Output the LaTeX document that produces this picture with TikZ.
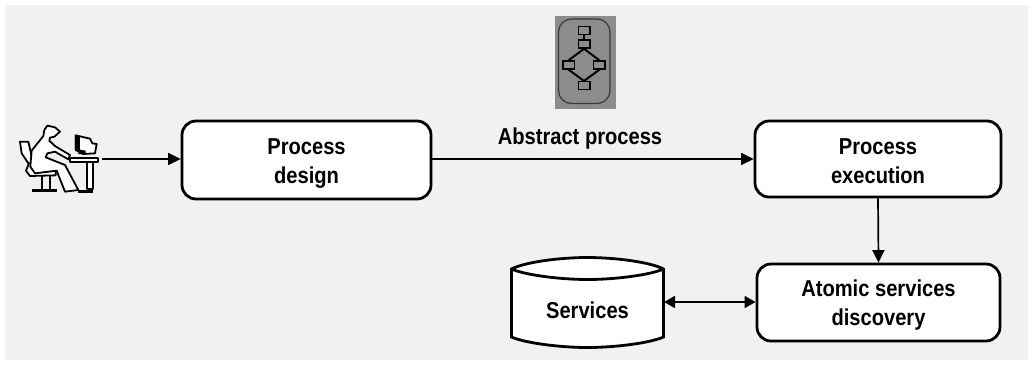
\documentclass[tikz,border=0pt]{standalone}
\usepackage{fontspec}
\setmainfont[FakeStretch=0.875]{Liberation Sans}
\usetikzlibrary{arrows.meta}
\newcommand{\twolinetext}[3]{\raisebox{-#3}[0pt][0pt]{\begin{tabular}[b]{@{}c@{}}#1\\#2\end{tabular}}}
\tikzset{
  procbox/.style={draw=black,line width=2.8pt,fill=white,rounded corners=14pt,align=center,
    font=\fontsize{23}{29}\selectfont\bfseries,inner sep=0pt},
  conn/.style={draw=black,line width=1.7pt,-{Triangle[length=12.5pt,width=12pt]}},
  biconn/.style={draw=black,line width=1.7pt,{Triangle[length=11pt,width=12pt]}-{Triangle[length=11pt,width=12pt]}},
  lab/.style={font=\fontsize{23}{26}\selectfont\bfseries,inner sep=0pt},
  mini/.style={draw=black,line width=1.5pt,fill=iconfill,minimum width=11.5pt,minimum height=8pt,inner sep=0pt},
  miniline/.style={draw=black,line width=2pt},
  pers/.style={draw=black,line width=1.8pt,fill=white,line join=round},
}
\definecolor{bggray}{RGB}{241,241,241}
\definecolor{iconfill}{RGB}{140,140,140}
\begin{document}
\begin{tikzpicture}[x=1pt,y=-1pt]
\useasboundingbox (0,0) rectangle (1032,365);
\fill[white] (0,0) rectangle (1032,365);
\fill[bggray] (5,5) rectangle (1028,360);
% boxes
\node[procbox,minimum width=249pt,minimum height=78pt] (design) at (306.5,160) {\twolinetext{Process}{design}{23.5pt}};
\node[procbox,minimum width=246pt,minimum height=76pt] (exec) at (878,159) {\twolinetext{Process}{execution}{24.5pt}};
\node[procbox,minimum width=243pt,minimum height=77pt] (atomic) at (878.5,302.5) {\twolinetext{Atomic services}{discovery}{23pt}};
% cylinder
\path[draw=black,line width=2.8pt,fill=white] (511.5,269) -- (511.5,337) .. controls (525,343) and (560,347.5) .. (587.5,347.5) .. controls (615,347.5) and (650,343) .. (663.5,337) -- (663.5,269) .. controls (650,262) and (615,257.5) .. (587.5,257.5) .. controls (560,257.5) and (525,262) .. (511.5,269) -- cycle;
\path[draw=black,line width=2.8pt] (511.5,269) .. controls (525,275) and (560,279.5) .. (587.5,279.5) .. controls (615,279.5) and (650,275) .. (663.5,269);
\node[lab] (services) at (587.5,310.5) {Services};
\coordinate (servE) at (664,302);
% label
\node[lab] (abstract) at (580,139) {Abstract process};
% person
\coordinate (persE) at (102,159);
\begin{scope}[shift={(15,120)},x=0.3333pt,y=-0.3333pt]
  % chair
  \path[pers] (15,65) -- (40,65) -- (55,130) -- (40,130) -- (20,100) -- cycle;
  \path[pers] (42,130) -- (33,152) -- (45,168) -- (122,166) -- (122,150) -- (70,130) -- cycle;
  \path[draw=black,line width=1.9pt] (82,168) -- (82,208) (105,168) -- (105,208);
  \draw[black,line width=2.6pt] (50,212) -- (125,212);
  % body
  \path[pers] (88,30) -- (97,17) -- (120,22) -- (135,35) -- (118,50) -- (105,53) -- (103,62) -- (120,78) -- (165,105) -- (160,118) -- (120,95) -- (97,100) -- (92,112) -- (150,135) -- (190,210) -- (150,215) -- (125,152) -- (60,160) -- (46,140) -- (50,92) -- (85,48) -- cycle;
  % monitor
  \path[pers] (182,46) -- (225,56) -- (232,70) -- (245,72) -- (240,100) -- (205,102) -- (182,90) -- cycle;
  \fill[black] (180,44) -- (195,48) -- (195,92) -- (180,90) -- cycle;
  \fill[black] (190,88) -- (212,92) -- (212,104) -- (190,102) -- cycle;
  % desk
  \path[pers] (165,113) -- (248,113) -- (248,125) -- (165,125) -- cycle;
  \path[pers] (217,125) -- (234,125) -- (234,208) -- (217,208) -- cycle;
  \draw[black,line width=2.6pt] (190,214) -- (234,214);
\end{scope}
% icon
\fill[iconfill] (555,16) rectangle (616,109);
\draw[black!60!iconfill,line width=1.2pt,rounded corners=13pt] (558.5,19) rectangle (610,103.5);
\node[mini] (m1) at (584,30.7) {};
\node[mini] (m2) at (584,44) {};
\node[mini] (m3) at (568.7,65) {};
\node[mini] (m4) at (599.3,65) {};
\node[mini] (m5) at (584,85.7) {};
\draw[miniline] (m1) -- (m2);
\draw[miniline] (m2.south) -- (m3.north);
\draw[miniline] (m2.south) -- (m4.north);
\draw[miniline] (m3.south) -- (m5.north);
\draw[miniline] (m4.south) -- (m5.north);
% connectors
\draw[conn] (persE) -- (design.west |- persE);
\draw[conn] (design.east |- exec) -- (exec.west);
\draw[conn] (exec.south) -- (atomic.north);
\draw[biconn] (servE) -- (atomic.west |- servE);
\end{tikzpicture}
\end{document}
